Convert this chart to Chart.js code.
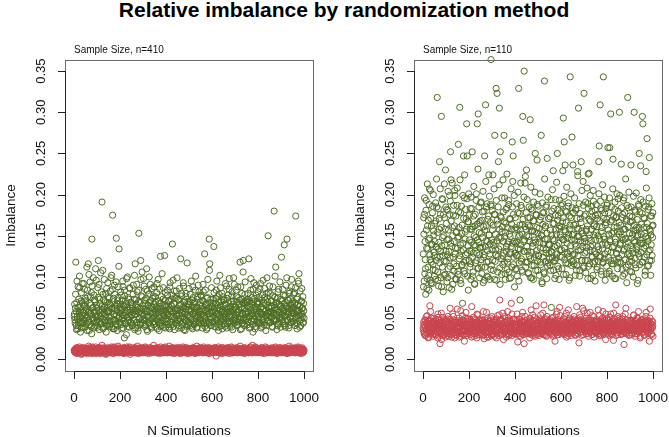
<!DOCTYPE html>
<html>
<head>
<meta charset="utf-8">
<script src="https://cdn.jsdelivr.net/npm/chart.js@4.4.1/dist/chart.umd.min.js"></script>
<style>
  body { margin: 0; background: #fff; }
  #wrap { position: relative; width: 669px; height: 437px; overflow: hidden; }
  #title {
    position: absolute; left: 0; top: -1px; width: 688px; text-align: center;
    font: bold 21px "Liberation Sans", Arial, sans-serif; line-height: 1; color: #000;
  }
  canvas { position: absolute; top: 0; }
</style>
</head>
<body>
<div id="wrap">
  <div id="title">Relative imbalance by randomization method</div>
  <canvas id="left" width="340" height="437" style="left:0"></canvas>
  <canvas id="right" width="329" height="437" style="left:340px"></canvas>
</div>
<script>
// imbalance values in thousandths, one per simulation
// "Even" arrays: simulations 2, 4, ..., 1000; "Odd" arrays: simulations 1, 3, ..., 999
const greenN410Even = [
  55,48,62,118,41,69,52,37,88,45,58,101,64,33,50,71,44,92,57,39,66,48,85,53,74,
  60,43,112,51,76,116,47,35,68,94,56,40,81,146,62,49,99,38,57,72,45,110,53,66,41,
  48,87,120,59,36,73,52,105,44,64,191,55,79,39,61,97,47,70,54,33,86,58,42,76,63,
  51,68,40,83,57,46,102,62,175,37,74,55,90,48,65,43,147,59,35,71,88,50,134,45,67,
  56,42,78,61,49,95,38,66,53,84,44,71,58,30,63,100,47,75,52,39,87,60,45,69,54,
  41,64,57,90,48,73,36,116,55,67,45,82,59,38,70,153,50,62,43,120,77,56,106,48,65,
  98,53,72,40,61,85,47,110,58,34,66,52,79,44,69,91,56,38,63,49,74,57,42,88,60,
  46,70,55,39,81,62,48,97,57,35,68,51,125,44,76,59,41,65,87,53,47,126,72,38,58,
  63,49,84,55,42,71,60,37,93,52,66,45,78,140,57,40,68,83,50,61,44,74,56,99,47,
  59,38,72,53,65,46,122,57,80,42,63,51,89,36,69,55,47,76,61,40,117,54,67,45,86,
  52,70,41,58,95,48,64,37,75,56,43,68,59,84,46,62,39,73,51,90,57,44,66,50,78,
  47,61,55,38,71,82,53,44,128,60,49,67,36,74,58,97,45,63,146,116,52,69,41,87,56,
  64,50,73,137,45,59,68,39,84,55,48,76,62,35,70,53,102,46,65,57,41,80,60,49,72,
  55,43,67,92,51,62,38,74,57,46,69,85,53,40,64,58,44,77,61,36,71,99,50,63,47,
  60,48,76,54,41,88,58,66,45,72,118,52,63,37,80,56,47,120,69,43,61,94,55,70,49,
  65,42,73,57,122,51,68,39,84,60,46,75,55,33,70,93,48,62,53,40,78,59,45,67,82,
  51,69,44,86,57,63,38,72,54,48,96,61,42,75,58,66,35,80,53,47,70,150,56,62,89,
  58,45,71,52,64,40,77,56,49,180,63,101,47,68,55,36,74,60,43,85,57,65,50,39,73,
  124,54,62,46,78,58,139,41,69,53,90,64,146,48,57,72,38,61,83,51,66,45,97,59,70,
  49,63,56,81,44,68,174,52,60,37,75,58,92,104,47,65,53,41,71,86,55,62,44,68,50
];
const greenN410Odd = [
  52,67,44,79,58,36,95,49,63,41,73,55,87,46,60,38,81,53,69,44,57,92,48,65,39,
  71,50,62,35,84,57,45,103,59,42,76,54,66,31,89,50,63,47,78,40,58,70,52,96,45,
  62,39,75,53,91,46,68,57,43,82,60,49,108,37,72,56,64,45,80,51,41,69,58,93,47,
  58,74,43,66,52,99,39,61,85,48,70,55,37,79,62,46,94,53,67,41,75,57,113,50,63,
  45,82,59,37,71,54,88,47,64,26,77,56,43,68,98,51,60,40,73,57,48,86,62,44,69,
  53,66,41,79,60,47,102,55,38,72,58,91,45,63,34,84,57,49,69,42,97,61,52,76,44,
  61,47,89,55,42,68,58,74,36,83,52,65,44,100,59,48,71,40,63,86,55,45,77,51,67,
  43,76,58,64,49,92,37,60,71,53,45,85,62,40,68,57,104,47,73,55,39,66,59,81,50,
  57,65,46,78,54,39,70,61,88,45,58,73,42,64,52,96,48,67,36,75,59,44,83,53,62,
  48,73,55,41,86,60,50,67,38,77,56,45,93,62,49,71,35,58,80,46,64,53,70,42,61,
  66,44,79,51,60,39,72,55,88,47,63,42,70,57,101,49,64,38,76,54,45,82,59,48,69,
  54,77,43,65,58,91,46,70,52,40,84,59,47,66,38,75,55,62,44,108,57,49,73,41,64,
  59,45,68,53,81,40,62,57,74,48,95,43,66,55,39,79,61,50,87,46,70,58,37,76,52,
  47,72,58,40,66,55,89,50,61,43,78,57,98,45,63,52,70,39,82,59,48,67,54,91,44,
  63,51,84,46,70,57,42,75,60,49,67,36,88,55,73,44,62,106,50,68,41,79,58,47,72,
  50,69,45,80,58,38,71,63,52,98,47,66,56,42,85,60,49,74,37,64,57,90,46,70,55,
  67,48,75,58,43,92,55,64,40,78,61,50,69,45,86,53,72,59,41,99,56,47,81,63,52,
  44,80,57,62,50,71,39,88,54,66,46,75,60,112,48,69,53,41,82,58,67,45,94,51,64,
  56,71,48,85,60,43,67,52,77,39,64,58,99,47,72,55,41,80,62,50,74,45,88,57,66,
  61,46,79,55,68,41,87,58,50,73,44,66,95,53,60,39,83,57,48,70,62,52,76,45,59
];
const redN410Even = [
  10,12,8,11,14,9,7,13,10,11,8,15,9,12,10,6,11,13,9,10,12,8,14,11,9,
  11,9,13,7,10,12,16,8,11,10,9,13,12,7,10,14,9,11,8,12,10,15,9,11,13,
  8,12,10,14,9,11,7,13,10,12,17,9,11,8,10,13,12,9,6,11,10,14,8,12,9,
  12,10,8,13,11,9,15,10,12,7,11,9,14,10,8,12,11,13,9,10,16,8,11,12,10,
  9,13,11,8,12,10,14,9,7,11,13,10,12,9,15,8,10,11,13,9,12,6,10,14,11,
  10,8,12,11,9,14,10,13,8,11,12,9,16,10,7,12,11,9,13,10,8,12,14,9,11,
  13,9,11,10,15,8,12,10,9,13,11,7,12,10,14,9,11,8,12,10,13,9,17,11,10,
  9,12,10,14,8,11,13,9,12,10,7,11,15,9,12,10,8,13,11,10,9,14,12,8,11,
  11,10,13,8,12,9,16,11,10,12,8,13,9,11,14,10,7,12,11,9,13,10,8,12,10,
  10,14,9,12,11,7,13,10,8,12,11,15,9,10,12,13,8,11,9,14,10,12,7,11,13,
  12,9,11,13,10,8,12,14,9,11,10,13,7,12,9,11,16,10,8,12,11,9,13,10,12,
  9,11,13,10,8,12,15,9,11,10,12,8,13,11,9,14,10,12,7,11,10,13,9,12,11,
  11,8,12,10,14,9,11,13,4,10,12,9,11,15,8,12,10,13,9,11,7,12,10,14,9,
  10,13,9,11,12,8,10,14,11,9,13,10,7,12,11,9,15,10,12,8,11,13,9,10,12,
  12,10,14,9,11,13,8,10,12,9,16,11,10,8,13,12,9,11,10,14,7,12,11,9,13,
  9,11,10,13,8,12,10,15,9,11,12,8,17,10,11,13,9,12,10,8,14,11,9,12,10,
  11,13,9,10,12,8,14,11,10,9,13,12,7,11,10,15,9,12,11,8,10,13,12,9,11,
  10,8,12,11,14,9,10,13,8,12,11,9,15,10,12,7,11,13,10,9,12,14,8,11,10,
  13,10,9,12,11,8,14,10,12,9,11,13,7,10,12,11,9,16,10,8,12,11,13,9,10,
  9,12,11,14,8,10,13,11,9,12,10,15,8,11,13,9,12,10,7,11,14,10,12,9,11
];
const redN410Odd = [
  11,9,12,10,8,13,11,9,14,10,12,8,11,13,9,10,12,7,11,14,10,9,12,11,8,
  12,10,8,13,11,9,12,14,10,8,11,13,9,12,10,15,8,11,10,12,9,13,11,7,12,
  9,13,11,10,12,8,14,10,9,11,13,12,8,10,14,9,11,12,10,7,13,11,9,12,10,
  11,8,12,14,10,9,11,13,8,12,10,9,15,11,10,12,8,13,11,9,12,10,14,8,11,
  13,10,9,11,12,8,10,13,11,14,9,12,10,8,11,13,9,12,10,11,15,8,12,10,9,
  10,12,11,8,13,10,9,12,14,10,11,8,12,9,13,11,10,14,8,12,11,9,10,13,12,
  8,11,13,10,9,12,14,9,11,10,13,8,12,11,10,9,14,12,8,11,10,13,9,12,11,
  12,9,10,13,11,8,12,10,9,14,11,12,8,10,13,9,11,12,10,8,13,11,9,15,10,
  10,13,8,11,12,10,9,13,11,8,12,10,14,9,11,12,10,8,13,11,9,12,14,10,11,
  11,8,12,10,14,9,11,12,10,13,8,11,9,12,10,14,11,9,12,8,11,13,10,9,12,
  9,12,10,11,8,13,10,9,12,11,14,9,10,12,8,11,13,10,9,12,11,8,14,10,12,
  12,10,14,9,11,10,8,12,13,9,11,10,12,8,13,11,9,10,12,14,9,11,8,12,10,
  10,13,9,12,10,11,14,8,11,12,9,13,10,11,12,8,10,13,11,9,12,10,14,11,8,
  11,9,12,8,13,10,11,12,9,14,10,11,8,13,10,12,9,11,14,10,8,12,11,9,13,
  9,12,11,10,8,14,12,9,11,10,13,9,12,10,11,8,13,12,9,11,10,14,8,12,10,
  12,10,9,13,11,8,12,10,14,9,11,12,10,8,13,11,9,10,12,15,9,11,13,10,8,
  10,11,13,9,12,10,8,14,11,12,9,10,13,11,8,12,10,9,14,11,12,8,10,13,11,
  13,9,11,12,10,8,13,11,9,12,10,14,11,9,12,10,8,13,11,10,12,9,11,14,9,
  10,12,8,11,13,10,12,9,11,14,8,12,10,11,9,13,12,10,8,11,14,9,12,10,13,
  11,10,13,9,12,11,8,12,10,13,11,9,12,14,8,11,10,12,9,13,11,10,8,12,10
];
const greenN110Even = [
  88,152,176,104,121,79,193,135,98,162,112,145,84,207,127,96,171,118,140,92,186,109,156,130,101,
  143,97,168,120,185,318,106,134,89,158,240,125,176,99,295,138,112,194,82,150,119,172,103,230,131,
  165,94,127,181,110,146,87,199,123,252,218,102,137,160,91,175,116,143,205,128,98,154,113,187,135,
  107,261,149,122,306,96,178,131,114,163,68,141,247,118,196,104,155,127,171,286,247,101,138,167,120,
  145,112,183,97,131,158,252,124,106,174,139,92,162,117,148,201,129,286,110,298,142,166,99,135,190,
  121,153,104,179,136,93,161,127,247,112,309,144,185,101,132,170,119,224,151,97,140,188,364,114,133,
  157,224,108,142,176,272,119,133,329,96,323,164,125,240,148,305,111,252,137,172,103,155,126,218,143,
  272,118,149,97,165,131,184,109,140,122,193,106,152,128,170,99,137,158,264,216,247,115,143,88,129,
  109,160,126,143,101,178,134,329,117,151,72,139,187,122,108,164,295,266,131,350,145,214,112,158,230,
  137,118,172,104,149,126,161,291,99,183,130,114,156,141,97,168,123,145,250,108,176,132,242,119,153,
  126,147,102,169,135,115,272,151,92,178,124,140,106,338,160,119,185,133,98,244,146,117,171,129,139,
  114,157,131,63,180,123,146,229,108,165,137,120,194,102,152,128,250,113,174,141,97,162,125,148,187,
  133,110,167,229,293,145,264,121,236,155,103,179,130,147,116,190,125,158,99,343,138,172,114,270,151,
  236,119,163,128,145,102,181,137,114,159,228,126,305,149,370,108,171,133,240,156,120,142,216,111,323,
  147,129,176,105,158,136,120,189,225,113,226,151,132,168,98,144,180,124,139,205,116,162,131,95,175,
  128,154,109,171,137,119,240,259,146,309,125,183,103,160,134,117,343,149,122,178,96,141,166,113,187,
  139,257,124,152,107,257,143,298,130,116,169,101,243,155,137,120,182,146,98,173,128,161,110,195,134,
  152,300,118,141,163,237,127,109,176,145,132,196,104,158,121,147,170,93,136,318,115,184,128,153,107,
  125,236,147,119,168,134,100,156,300,142,123,179,111,160,137,92,151,128,186,250,115,145,235,130,164,
  118,295,286,141,172,124,153,107,138,228,160,268,113,147,131,185,245,120,156,102,139,174,126,148,163
];
const greenN110Odd = [
  128,172,95,196,143,110,181,157,86,213,134,169,102,188,147,121,205,93,162,139,178,115,200,151,126,
  165,108,190,137,219,124,154,96,183,142,171,117,207,131,160,88,195,148,126,176,102,213,139,158,185,
  119,182,145,99,204,157,131,176,113,192,141,168,85,214,150,124,187,107,162,199,135,174,97,155,208,
  147,103,179,160,126,218,139,92,186,153,115,199,133,171,107,224,146,182,120,158,195,129,167,84,201,
  175,132,158,116,197,142,183,101,161,129,210,150,91,176,138,193,120,164,145,231,111,185,154,127,168,
  136,191,112,169,148,204,124,180,96,157,137,216,162,118,189,143,100,174,151,198,128,166,109,186,145,
  181,120,163,138,207,97,176,152,127,193,144,169,106,185,134,212,158,91,174,147,122,196,161,115,179,
  129,167,196,104,154,182,137,225,118,160,143,188,98,171,149,130,207,164,112,185,141,176,124,199,157,
  172,141,110,189,158,126,203,149,95,177,163,134,214,119,184,152,106,170,143,197,131,161,222,118,178,
  150,194,131,163,105,185,144,172,122,209,156,99,181,137,168,191,114,155,203,142,127,175,160,188,108,
  186,126,159,142,201,118,173,150,94,190,164,135,178,104,219,146,162,129,187,153,113,197,140,171,122,
  139,173,108,194,151,130,206,165,119,183,144,98,175,157,123,215,138,169,182,110,159,193,133,151,178,
  161,124,189,146,172,103,198,135,157,180,117,166,209,141,128,186,152,96,174,163,131,201,145,119,184,
  127,178,152,116,196,140,164,183,108,171,149,223,132,158,189,101,177,144,166,120,205,153,137,187,113,
  174,143,120,191,156,131,208,162,98,183,147,170,116,199,137,158,186,125,173,102,192,151,164,119,181,
  145,188,161,112,176,150,133,201,124,168,192,107,155,181,139,212,118,171,146,197,128,163,183,104,170,
  189,131,157,178,104,196,145,167,120,185,153,136,207,116,174,160,98,191,142,172,129,201,155,118,180,
  123,166,199,139,155,117,184,148,172,101,193,158,134,178,146,219,112,168,187,127,161,142,203,119,174,
  167,138,185,106,173,152,129,198,144,163,181,115,157,202,133,170,149,96,188,160,125,179,141,194,152,
  141,177,118,191,160,135,171,102,186,149,208,127,165,143,182,114,196,158,133,174,151,120,189,162,178
];
const redN110Even = [
  35,42,31,48,38,29,44,36,53,33,40,27,46,37,65,32,41,50,34,39,28,45,36,43,31,
  39,34,47,30,42,37,26,51,35,44,38,19,41,33,56,36,29,45,40,32,48,37,43,27,35,
  44,31,38,49,34,41,28,36,62,33,46,39,30,43,37,52,32,40,26,45,35,42,29,38,47,
  33,40,36,27,45,38,59,31,42,35,48,30,37,44,22,39,34,50,41,29,36,46,33,38,43,
  41,35,30,47,37,64,32,43,36,28,40,49,34,38,31,45,26,39,54,35,42,30,37,46,33,
  36,44,39,29,48,34,41,25,37,45,32,40,57,35,30,43,38,27,46,33,39,50,36,31,42,
  30,38,45,34,40,28,47,36,42,31,39,53,35,44,29,37,72,33,41,48,36,30,43,38,24,
  45,33,39,50,36,27,42,35,58,31,44,38,30,47,34,40,68,37,29,43,36,49,32,39,35,
  38,42,30,46,35,21,40,37,49,33,44,28,39,36,52,31,45,34,41,19,38,47,32,43,36,
  34,48,37,31,43,39,26,45,35,60,32,41,38,29,46,36,51,33,40,37,65,30,44,38,35,
  41,29,46,36,33,54,39,44,31,38,47,35,66,40,30,43,37,28,49,34,42,36,45,32,39,
  37,45,31,40,50,35,28,43,38,33,46,22,41,36,55,39,30,44,34,48,37,63,32,40,35,
  43,32,39,47,36,41,30,52,35,44,38,27,45,33,40,60,37,31,48,36,42,29,39,46,34,
  36,41,34,49,38,29,44,37,64,32,40,46,35,20,42,38,51,33,39,45,36,62,30,43,37,
  44,35,40,31,47,37,56,34,42,28,39,45,33,48,36,41,30,53,38,44,35,27,46,39,32,
  38,46,33,42,37,60,35,29,45,40,31,48,36,43,34,58,39,30,47,37,41,24,44,36,50,
  33,40,47,36,29,44,38,55,34,42,31,46,37,23,41,35,49,39,66,32,43,36,45,30,38,
  42,34,39,48,35,30,45,37,52,33,41,18,44,38,36,62,31,43,40,47,34,39,29,46,37,
  35,43,38,30,46,37,41,54,33,44,28,39,47,36,42,31,50,38,34,45,40,26,43,37,48,
  39,33,45,37,42,29,48,36,40,57,34,44,31,38,46,35,22,41,61,37,43,30,39,46,28
];
const redN110Odd = [
  38,45,33,41,29,47,36,52,31,43,39,26,48,35,42,37,58,32,44,40,30,46,34,50,38,
  41,30,49,36,44,33,39,55,28,42,37,47,32,45,38,24,43,35,51,40,29,46,37,34,48,
  33,46,38,29,52,41,35,44,31,48,37,42,27,39,55,34,45,32,40,47,36,30,43,38,61,
  45,34,41,50,32,39,44,28,47,36,53,33,42,38,30,46,40,35,57,31,43,37,49,34,39,
  36,49,33,42,38,27,46,40,35,51,31,44,39,47,33,42,29,55,37,45,34,40,32,48,43,
  42,31,47,37,44,35,58,30,41,48,36,33,45,39,27,50,43,35,40,32,47,38,44,29,52,
  35,43,30,48,39,45,33,41,37,26,49,36,44,40,32,54,38,47,31,42,35,46,39,56,34,
  40,36,52,33,45,38,30,47,42,35,50,29,41,37,46,32,43,39,55,36,44,31,48,40,34,
  47,33,40,38,55,31,44,36,42,29,48,39,35,46,41,33,57,37,30,45,40,36,52,34,43,
  31,44,39,46,35,42,33,50,38,45,30,41,36,54,32,47,39,43,28,40,35,48,37,44,33,
  44,37,31,49,40,35,46,33,42,38,56,30,45,36,41,48,34,39,29,52,37,43,35,47,40,
  36,48,42,33,45,38,30,51,37,44,35,40,47,32,43,36,58,34,41,39,30,46,38,53,35,
  40,34,46,37,31,49,43,36,40,45,33,56,38,42,29,47,35,41,50,37,44,32,39,48,36,
  33,45,38,52,36,42,30,47,39,35,44,31,49,40,37,54,33,46,42,29,48,36,41,38,59,
  46,37,43,33,50,39,35,45,31,42,48,36,40,57,34,44,38,30,47,41,36,52,33,43,39,
  35,42,48,38,31,45,40,34,53,37,43,29,46,39,36,50,32,44,41,38,47,33,55,37,42,
  43,36,31,47,40,34,51,38,45,30,42,48,35,39,56,33,44,37,41,29,46,40,36,52,35,
  37,50,40,34,45,38,43,31,49,36,41,46,33,39,55,37,42,32,48,40,35,44,38,30,47,
  42,35,47,39,32,44,37,53,35,40,46,31,43,38,50,34,41,36,58,33,45,39,28,44,40,
  36,44,33,48,41,37,30,46,39,52,35,42,38,45,32,47,40,34,50,37,43,31,46,38,41
];
const xTicks = [0, 200, 400, 600, 800, 1000];
const yTicks = [0, 0.05, 0.10, 0.15, 0.20, 0.25, 0.30, 0.35];
const yTickLabels = ["0.00", "0.05", "0.10", "0.15", "0.20", "0.25", "0.30", "0.35"];

const FONT = '"Liberation Sans", Arial, sans-serif';
const GREEN = "#4f6d24";
const RED = "#c9444c";

// join odd and even simulations into {x: simulation, y: imbalance}
function toPoints(odd, even) {
  const pts = [];
  for (let i = 0; i < even.length; i++) {
    pts.push({ x: 2 * i + 1, y: odd[i] / 1000 });
    pts.push({ x: 2 * i + 2, y: even[i] / 1000 });
  }
  return pts;
}

// R-style box, ticks and labels drawn with the chart's own scales
const rAxes = {
  id: "rAxes",
  afterDraw(chart, args, opts) {
    const ctx = chart.ctx;
    const { left, right, top, bottom } = chart.chartArea;
    const xs = chart.scales.x, ys = chart.scales.y;
    ctx.save();
    ctx.lineWidth = 1;
    ctx.strokeStyle = "#6a6a6a";
    ctx.strokeRect(left + 0.5, top + 0.5, right - left, bottom - top);

    ctx.strokeStyle = "#222";
    ctx.fillStyle = "#111";
    ctx.beginPath();
    ctx.moveTo(left + 0.5, Math.round(ys.getPixelForValue(0)) + 0.5);
    ctx.lineTo(left + 0.5, Math.round(ys.getPixelForValue(0.35)) + 0.5);
    ctx.moveTo(Math.round(xs.getPixelForValue(0)) + 0.5, bottom + 0.5);
    ctx.lineTo(Math.round(xs.getPixelForValue(1000)) + 0.5, bottom + 0.5);
    yTicks.forEach((v) => {
      const py = Math.round(ys.getPixelForValue(v)) + 0.5;
      ctx.moveTo(left - 7, py);
      ctx.lineTo(left + 0.5, py);
    });
    xTicks.forEach((v) => {
      const px = Math.round(xs.getPixelForValue(v)) + 0.5;
      ctx.moveTo(px, bottom + 0.5);
      ctx.lineTo(px, bottom + 8);
    });
    ctx.stroke();

    ctx.font = "13.5px " + FONT;
    ctx.textAlign = "center";
    ctx.textBaseline = "alphabetic";
    xTicks.forEach((v) => {
      ctx.fillText(String(v), xs.getPixelForValue(v), bottom + 31);
    });
    ctx.font = "13px " + FONT;
    yTicks.forEach((v, i) => {
      ctx.save();
      ctx.translate(left - 20, ys.getPixelForValue(v));
      ctx.rotate(-Math.PI / 2);
      ctx.fillText(yTickLabels[i], 0, 0);
      ctx.restore();
    });

    ctx.font = "13.5px " + FONT;
    ctx.fillText("N Simulations", (left + right) / 2, bottom + 64);
    ctx.save();
    ctx.translate(left - 50, (top + bottom) / 2);
    ctx.rotate(-Math.PI / 2);
    ctx.fillText("Imbalance", 0, 0);
    ctx.restore();

    ctx.font = "10px " + FONT;
    ctx.textAlign = "left";
    ctx.fillText(opts.subtitle, xs.getPixelForValue(0), top - 7.5);
    ctx.restore();
  }
};

function makePanel(id, subtitle, green, red, padding) {
  return new Chart(document.getElementById(id), {
    type: "scatter",
    data: {
      datasets: [
        { label: "red", data: red, borderColor: RED },
        { label: "green", data: green, borderColor: GREEN }
      ]
    },
    options: {
      responsive: false,
      animation: false,
      devicePixelRatio: 1,
      events: [],
      layout: { padding },
      elements: {
        point: { radius: 3.1, borderWidth: 1, backgroundColor: "rgba(0,0,0,0)", pointStyle: "circle" }
      },
      datasets: { scatter: { clip: false } },
      scales: {
        x: { type: "linear", min: -39, max: 1039, display: false },
        y: { type: "linear", min: -0.0142, max: 0.3635, display: false }
      },
      plugins: {
        legend: { display: false },
        tooltip: { enabled: false },
        rAxes: { subtitle }
      }
    },
    plugins: [rAxes]
  });
}

makePanel("left", "Sample Size, n=410",
  toPoints(greenN410Odd, greenN410Even), toPoints(redN410Odd, redN410Even),
  { left: 65, right: 27, top: 60, bottom: 66 });
makePanel("right", "Sample Size, n=110",
  toPoints(greenN110Odd, greenN110Even), toPoints(redN110Odd, redN110Even),
  { left: 74, right: 7, top: 60, bottom: 66 });
</script>
</body>
</html>
